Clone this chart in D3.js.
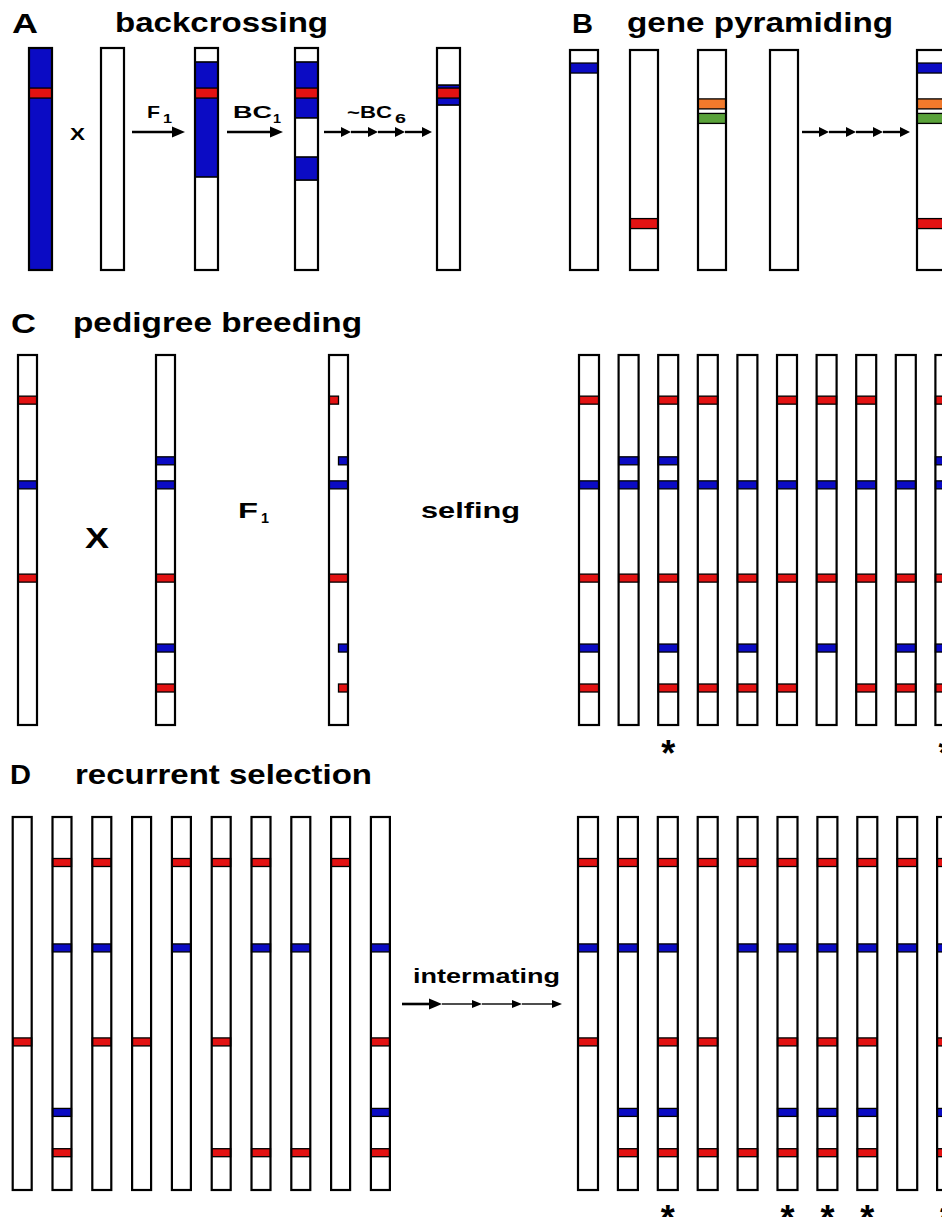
<!DOCTYPE html>
<html>
<head>
<meta charset="utf-8">
<script src="https://cdn.jsdelivr.net/npm/d3@7"></script>
<style>
  body { margin: 0; background: #fff; }
  text { font-family: "Liberation Sans", Arial, Helvetica, sans-serif; font-weight: bold; fill: #000; }
</style>
</head>
<body>
<svg id="fig"></svg>
<script>
// marker map shared by panels C and D (position along chromosome, 0 = top, 100 = bottom)
const markerIds = ['m1', 'm2', 'm3', 'm4', 'm5', 'm6']
const markerPos = [12.2, 28.6, 35.1, 60.3, 79.2, 90.0]
const markerColor = ['red', 'blue', 'blue', 'red', 'blue', 'red']

// A: backcrossing - donor segments (blue) and target gene (red)
const bcLines = ['P1', 'P2', 'F1', 'BC1', 'BC6']
const bcDonor = [[[0, 100]], [], [[6.3, 58.1]], [[6.3, 31.5], [49.1, 59.5]], [[16.7, 25.7]]]
const bcTarget = [20.3, null, 20.3, 20.3, 20.3]
const bcSteps = [['F', '1'], ['BC', '1'], ['~BC', '6']]

// B: gene pyramiding
const pyrLines = ['L1', 'L2', 'L3', 'L4', 'pyramid']
const pyrGenes = ['blue', 'orange', 'green', 'red']
const pyrGenePos = [8.2, 24.5, 31.1, 78.9]
const pyrCarried = [['blue'], ['red'], ['orange', 'green'], [], ['blue', 'orange', 'green', 'red']]

// C: pedigree breeding
const pedParents = [['m1', 'm3', 'm4'], ['m2', 'm3', 'm4', 'm5', 'm6']]
const pedF1 = [['m1', 'L'], ['m2', 'R'], ['m3', ''], ['m4', ''], ['m5', 'R'], ['m6', 'R']]
const pedProgeny = [
  ['m1', 'm3', 'm4', 'm5', 'm6'],
  ['m2', 'm3', 'm4'],
  ['m1', 'm2', 'm3', 'm4', 'm5', 'm6'],
  ['m1', 'm3', 'm4', 'm6'],
  ['m3', 'm4', 'm5', 'm6'],
  ['m1', 'm3', 'm4', 'm6'],
  ['m1', 'm3', 'm4', 'm5'],
  ['m1', 'm3', 'm4', 'm6'],
  ['m3', 'm4', 'm5', 'm6'],
  ['m1', 'm2', 'm3', 'm4', 'm5', 'm6']
]
const pedSelected = [3, 10]

// D: recurrent selection
const rsBase = [
  ['m4'],
  ['m1', 'm3', 'm5', 'm6'],
  ['m1', 'm3', 'm4'],
  ['m4'],
  ['m1', 'm3'],
  ['m1', 'm4', 'm6'],
  ['m1', 'm3', 'm6'],
  ['m3', 'm6'],
  ['m1'],
  ['m3', 'm4', 'm5', 'm6']
]
const rsImproved = [
  ['m1', 'm3', 'm4'],
  ['m1', 'm3', 'm5', 'm6'],
  ['m1', 'm3', 'm4', 'm5', 'm6'],
  ['m1', 'm4', 'm6'],
  ['m1', 'm3', 'm6'],
  ['m1', 'm3', 'm4', 'm5', 'm6'],
  ['m1', 'm3', 'm4', 'm5', 'm6'],
  ['m1', 'm3', 'm4', 'm5', 'm6'],
  ['m1', 'm3'],
  ['m1', 'm3', 'm4', 'm5', 'm6']
]
const rsSelected = [3, 6, 7, 8, 10]

const colors = {red: '#e31212', blue: '#0b0bc4', orange: '#f27a2c', green: '#5aa23a'}

const svg = d3.select('#fig').attr('width', 942).attr('height', 1217)

function label (x, y, str, size, len) {
  svg.append('text')
    .attr('x', x).attr('y', y)
    .attr('font-size', size)
    .attr('textLength', len)
    .attr('lengthAdjust', 'spacingAndGlyphs')
    .text(str)
}

function marker (id) {
  const i = markerIds.indexOf(id)
  return {pos: markerPos[i], color: markerColor[i]}
}

// one chromosome: white bar, blue segments, coloured bands, black outline
function drawChrom (x, w, y, segs, bands, bandH) {
  const g = svg.append('g')
  g.append('rect')
    .attr('x', x).attr('y', y(0))
    .attr('width', w).attr('height', y(100) - y(0))
    .attr('fill', '#fff')
  g.selectAll('rect.seg')
    .data(segs)
    .enter()
    .append('rect')
    .attr('class', 'seg')
    .attr('x', x).attr('width', w)
    .attr('y', d => y(d[0]))
    .attr('height', d => y(d[1]) - y(d[0]))
    .attr('fill', colors.blue)
    .attr('stroke', '#000')
    .attr('stroke-width', 1.6)
  g.selectAll('rect.band')
    .data(bands)
    .enter()
    .append('rect')
    .attr('class', 'band')
    .attr('x', d => d.side === 'R' ? x + w / 2 : x)
    .attr('width', d => d.side ? w / 2 : w)
    .attr('y', d => y(d.pos) - bandH / 2)
    .attr('height', bandH)
    .attr('fill', d => colors[d.color])
    .attr('stroke', '#000')
    .attr('stroke-width', 1.3)
  g.append('rect')
    .attr('x', x).attr('y', y(0))
    .attr('width', w).attr('height', y(100) - y(0))
    .attr('fill', 'none')
    .attr('stroke', '#000')
    .attr('stroke-width', 2.2)
}

// n arrows laid end to end between x0 and x1
function arrowRow (x0, x1, y, n, styles) {
  const step = (x1 - x0) / n
  for (let i = 0; i < n; i++) {
    const s = styles[Math.min(i, styles.length - 1)]
    const a = x0 + i * step
    const b = a + step
    svg.append('line')
      .attr('x1', a).attr('x2', b - s.hl + 1)
      .attr('y1', y).attr('y2', y)
      .attr('stroke', '#000')
      .attr('stroke-width', s.lw)
    svg.append('path')
      .attr('d', `M${b - s.hl},${y - s.hw / 2}L${b},${y}L${b - s.hl},${y + s.hw / 2}Z`)
      .attr('fill', '#000')
  }
}

const bigArrow = {lw: 2.6, hl: 13, hw: 11}
const smallArrow = {lw: 2.4, hl: 10, hw: 10}
const thinArrow = {lw: 1.4, hl: 10, hw: 8}

// ---------- A backcrossing ----------
label(12, 33, 'A', 28, 26)
label(115, 32, 'backcrossing', 28, 213)
const xA = d3.scaleOrdinal().domain(bcLines).range([29, 101, 195, 295, 437])
const wA = 23
const yA = d3.scaleLinear().domain([0, 100]).range([48, 270])
bcLines.forEach((l, i) => {
  const bands = bcTarget[i] === null ? [] : [{pos: bcTarget[i], color: 'red'}]
  drawChrom(xA(l), wA, yA, bcDonor[i], bands, 10)
})
label(70, 140, 'X', 17, 15)
arrowRow(xA('P2') + wA + 8, xA('F1') - 10, 132, 1, [bigArrow])
arrowRow(xA('F1') + wA + 9, xA('BC1') - 12, 132, 1, [bigArrow])
arrowRow(xA('BC1') + wA + 6, xA('BC6') - 5, 132, 4, [smallArrow])
const stepLab = [[147, 13, 163, 9], [233, 39, 273, 8], [347, 45, 395, 11]]
bcSteps.forEach((s, i) => {
  const p = stepLab[i]
  label(p[0], 118, s[0], 17, p[1])
  label(p[2], 123, s[1], 13, p[3])
})

// ---------- B gene pyramiding ----------
label(572, 33, 'B', 28, 21)
label(627, 32, 'gene pyramiding', 28, 266)
const xB = d3.scaleOrdinal().domain(pyrLines).range([570, 630, 698, 770, 917])
const wB = 28
const yB = d3.scaleLinear().domain([0, 100]).range([50, 270])
pyrLines.forEach((l, i) => {
  const bands = pyrCarried[i].map(gn => ({pos: pyrGenePos[pyrGenes.indexOf(gn)], color: gn}))
  drawChrom(xB(l), wB, yB, [], bands, 10)
})
arrowRow(xB('L4') + wB + 4, xB('pyramid') - 7, 132, 4, [smallArrow])

// ---------- C pedigree breeding ----------
label(11, 333, 'C', 28, 25)
label(73, 332, 'pedigree breeding', 28, 289)
const yC = d3.scaleLinear().domain([0, 100]).range([355, 725])
const xC = d3.scaleOrdinal().domain(['P1', 'P2', 'F1']).range([18, 156, 329])
const wC = 19
pedParents.forEach((p, i) => {
  drawChrom(xC(['P1', 'P2'][i]), wC, yC, [], p.map(marker), 8)
})
drawChrom(xC('F1'), wC, yC, [], pedF1.map(d => Object.assign(marker(d[0]), {side: d[1]})), 8)
label(85, 548, 'X', 29, 24)
label(238, 518, 'F', 22, 20)
label(261, 523, '1', 15, 8)
label(421, 518, 'selfing', 22, 99)

const xCp = d3.scaleBand().domain(d3.range(1, 11)).range([579, 955.4]).paddingInner(0.495)
pedProgeny.forEach((p, i) => {
  drawChrom(xCp(i + 1), xCp.bandwidth(), yC, [], p.map(marker), 8)
})
svg.selectAll('text.starC')
  .data(pedSelected)
  .enter()
  .append('text')
  .attr('class', 'starC')
  .attr('x', d => xCp(d) + xCp.bandwidth() / 2)
  .attr('y', 766)
  .attr('text-anchor', 'middle')
  .attr('font-size', 36)
  .text('*')

// ---------- D recurrent selection ----------
label(10, 784, 'D', 28, 21)
label(75, 784, 'recurrent selection', 28, 297)
const yD = d3.scaleLinear().domain([0, 100]).range([817, 1190])
const xDb = d3.scaleBand().domain(d3.range(1, 11)).range([12.7, 389.9]).paddingInner(0.523)
rsBase.forEach((p, i) => {
  drawChrom(xDb(i + 1), xDb.bandwidth(), yD, [], p.map(marker), 8)
})
label(413, 983, 'intermating', 21, 147)
arrowRow(402, 562, 1004, 4, [bigArrow, thinArrow])

const xDi = d3.scaleBand().domain(d3.range(1, 11)).range([578, 957.1]).paddingInner(0.499)
rsImproved.forEach((p, i) => {
  drawChrom(xDi(i + 1), xDi.bandwidth(), yD, [], p.map(marker), 8)
})
svg.selectAll('text.starD')
  .data(rsSelected)
  .enter()
  .append('text')
  .attr('class', 'starD')
  .attr('x', d => xDi(d) + xDi.bandwidth() / 2)
  .attr('y', 1231)
  .attr('text-anchor', 'middle')
  .attr('font-size', 36)
  .text('*')
</script>
</body>
</html>
